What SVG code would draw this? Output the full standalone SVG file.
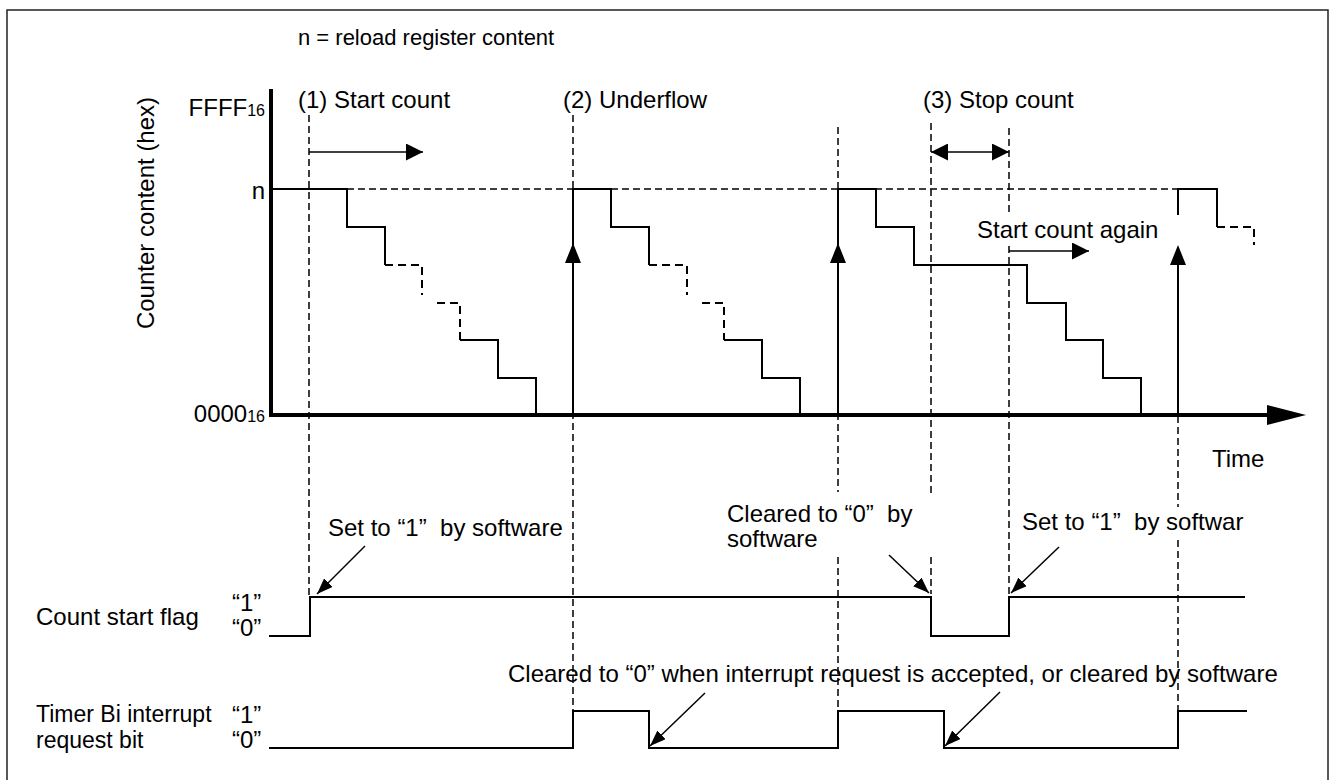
<svg xmlns="http://www.w3.org/2000/svg" width="1335" height="780" viewBox="0 0 1335 780">
  <defs>
    <style>
      text { font-family: "Liberation Sans", Arial, sans-serif; font-size: 24px; fill: #000; }
      .sub { font-size: 16px; }
      .wave { fill: none; stroke: #000; stroke-width: 2; stroke-linejoin: miter; }
      .wdash { fill: none; stroke: #000; stroke-width: 2; stroke-dasharray: 8 5; }
      .guide { fill: none; stroke: #000; stroke-width: 1.5; stroke-dasharray: 7 4; }
      .axis { fill: none; stroke: #000; stroke-width: 4; }
      .ann { fill: none; stroke: #000; stroke-width: 1.5; }
    </style>
    <marker id="ah" viewBox="0 0 16 12" refX="16" refY="6" markerWidth="16" markerHeight="12" markerUnits="userSpaceOnUse" orient="auto">
      <path d="M0,0 L16,6 L0,12 z" fill="#000"/>
    </marker>
    <marker id="ahd" viewBox="0 0 17 17" refX="17" refY="8.5" markerWidth="17" markerHeight="17" markerUnits="userSpaceOnUse" orient="auto-start-reverse">
      <path d="M0,0 L17,8.5 L0,17 z" fill="#000"/>
    </marker>
  </defs>

  <rect x="0" y="0" width="1335" height="780" fill="#fff"/>
  <rect id="frame" x="7" y="10" width="1321" height="780" fill="none" stroke="#222" stroke-width="1.5"/>

  <!-- labels -->
  <g id="labels">
    <text x="298" y="45" style="font-size:22px">n = reload register content</text>
    <text x="265" y="116" text-anchor="end">FFFF<tspan class="sub">16</tspan></text>
    <text x="265" y="199" text-anchor="end">n</text>
    <text x="265" y="422" text-anchor="end">0000<tspan class="sub">16</tspan></text>
    <text transform="translate(154,213) rotate(-90)" text-anchor="middle">Counter content (hex)</text>
    <text x="298" y="108">(1) Start count</text>
    <text x="563" y="108">(2) Underflow</text>
    <text x="923" y="108">(3) Stop count</text>
    <text x="1212" y="467">Time</text>
    <text x="36" y="625">Count start flag</text>
    <text x="232" y="611">“1”</text>
    <text x="232" y="636">“0”</text>
    <text x="36" y="722" style="font-size:23px">Timer Bi interrupt</text>
    <text x="36" y="748" style="font-size:23px">request bit</text>
    <text x="232" y="723">“1”</text>
    <text x="232" y="748">“0”</text>
  </g>

  <!-- dashed guide lines -->
  <g id="guides">
    <line class="guide" x1="309" y1="115" x2="309" y2="597"/>
    <line class="guide" x1="573" y1="115" x2="573" y2="711"/>
    <line class="guide" x1="838" y1="127" x2="838" y2="492"/>
    <line class="guide" x1="838" y1="557" x2="838" y2="711"/>
    <line class="guide" x1="931" y1="123" x2="931" y2="497"/>
    <line class="guide" x1="931" y1="557" x2="931" y2="594"/>
    <line class="guide" x1="1009" y1="128" x2="1009" y2="212"/>
    <line class="guide" x1="1009" y1="246" x2="1009" y2="594"/>
    <line class="guide" x1="1178" y1="416" x2="1178" y2="507"/>
    <line class="guide" x1="1178" y1="540" x2="1178" y2="711"/>
    <line class="guide" x1="347" y1="189" x2="1178" y2="189"/>
  </g>

  <!-- axes -->
  <g id="axes">
    <line class="axis" x1="271" y1="89" x2="271" y2="417"/>
    <line class="axis" x1="269" y1="415" x2="1268" y2="415"/>
    <polygon points="1267,405 1306,415 1267,425" fill="#000"/>
  </g>

  <!-- counter waveform -->
  <g id="counter">
    <polyline class="wave" points="271,189 347,189 347,227 385,227 385,265"/>
    <polyline class="wdash" points="385,265 422,265 422,295"/>
    <polyline class="wdash" points="437,303 460,303 460,340"/>
    <polyline class="wave" points="460,340 498,340 498,378 536,378 536,416"/>

    <polyline class="wave" points="573,416 573,189 611,189 611,227 649,227 649,265"/>
    <polyline class="wdash" points="649,265 687,265 687,295"/>
    <polyline class="wdash" points="702,303 724,303 724,340"/>
    <polyline class="wave" points="724,340 762,340 762,378 800,378 800,416"/>
    <polygon points="565,263 573,243 581,263" fill="#000"/>

    <polyline class="wave" points="838,416 838,189 876,189 876,227 914,227 914,265 1027,265 1027,303 1066,303 1066,340 1103,340 1103,378 1141,378 1141,416"/>
    <polygon points="830,263 838,243 846,263" fill="#000"/>

    <line class="wave" x1="1178" y1="416" x2="1178" y2="250"/>
    <polygon points="1170,265 1178,245 1186,265" fill="#000"/>
    <polyline class="wave" points="1178,215 1178,189 1217,189 1217,227"/>
    <polyline class="wdash" points="1217,227 1254,227 1254,245"/>
  </g>

  <!-- count start flag -->
  <g id="count-start-flag">
    <polyline class="wave" points="269,636 310,636 310,597 931,597 931,636 1009,636 1009,597 1245,597"/>
  </g>

  <!-- timer interrupt request bit -->
  <g id="timer-request-bit">
    <polyline class="wave" points="269,748 573,748 573,711 649,711 649,748 838,748 838,711 944,711 944,748 1178,748 1178,711 1247,711"/>
  </g>

  <!-- annotations -->
  <g id="connectors">
    <line class="ann" x1="309" y1="152" x2="423" y2="152" marker-end="url(#ahd)"/>
    <line class="ann" x1="931" y1="152" x2="1009" y2="152" marker-start="url(#ahd)" marker-end="url(#ahd)"/>
    <line class="ann" x1="1009" y1="251" x2="1089" y2="251" marker-end="url(#ahd)"/>
    <line class="ann" x1="365" y1="546" x2="317" y2="594" marker-end="url(#ah)"/>
    <line class="ann" x1="889" y1="555" x2="929" y2="593" marker-end="url(#ah)"/>
    <line class="ann" x1="1059" y1="547" x2="1011" y2="593" marker-end="url(#ah)"/>
    <line class="ann" x1="705" y1="693" x2="650" y2="746" marker-end="url(#ah)"/>
    <line class="ann" x1="1000" y1="692" x2="945" y2="746" marker-end="url(#ah)"/>
  </g>

  <g id="annotation-text">
    <text x="977" y="238">Start count again</text>
    <text x="328" y="536" xml:space="preserve">Set to “1”  by software</text>
    <text x="727" y="522" xml:space="preserve">Cleared to “0”  by</text>
    <text x="727" y="547">software</text>
    <text x="1022" y="530" xml:space="preserve">Set to “1”  by softwar</text>
    <text x="508" y="682">Cleared to “0” when interrupt request is accepted, or cleared by software</text>
  </g>
</svg>
